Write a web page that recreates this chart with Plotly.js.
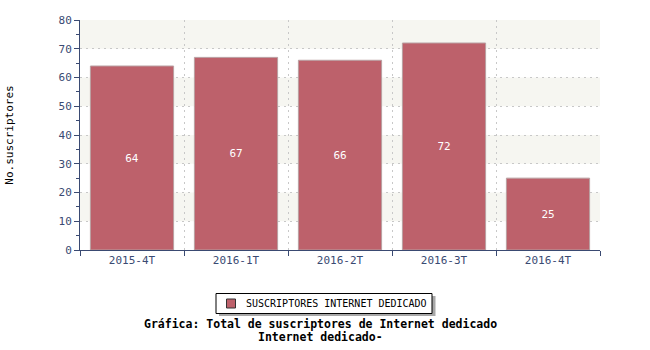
<!DOCTYPE html>
<html>
<head>
<meta charset="utf-8">
<script src="https://cdn.plot.ly/plotly-3.0.1.min.js"></script>
<style>html,body{margin:0;padding:0;background:#fff;}#chart{width:650px;height:350px;}</style>
</head>
<body>
<div id="chart"></div>
<script>
const categories = ["2015-4T", "2016-1T", "2016-2T", "2016-3T", "2016-4T"];
const values = [64, 67, 66, 72, 25];
const seriesName = "SUSCRIPTORES INTERNET DEDICADO";
const bandStartsGrey = [10, 30, 50, 70];
const barColor = "#bd616b";

const mono = "DejaVu Sans Mono, monospace";
const axisColor = "#3a4a72";
const px = v => (v - 80) / 520;   // container px -> paper x
const py = v => (250 - v) / 230;  // container px -> paper y

const shapes = [];
bandStartsGrey.forEach(b => shapes.push({
  type: "rect", xref: "paper", yref: "y", x0: 0, x1: 1, y0: b, y1: b + 10,
  fillcolor: "#f6f6f1", line: {width: 0}, layer: "below"
}));
// legend: shadow, box, swatch
shapes.push({type: "rect", xref: "paper", yref: "paper",
  x0: px(219), x1: px(435.5), y0: py(316), y1: py(296),
  fillcolor: "#a8a8a8", line: {width: 0}, layer: "above"});
shapes.push({type: "rect", xref: "paper", yref: "paper",
  x0: px(216), x1: px(432), y0: py(313.5), y1: py(293.5),
  fillcolor: "#ffffff", line: {color: "#000000", width: 1}, layer: "above"});
shapes.push({type: "rect", xref: "paper", yref: "paper",
  x0: px(226.5), x1: px(235.5), y0: py(308), y1: py(299),
  fillcolor: barColor, line: {color: "#333333", width: 1}, layer: "above"});

const data = [{
  type: "bar",
  x: categories,
  y: values,
  name: seriesName,
  text: values.map(String),
  textposition: "inside",
  insidetextanchor: "middle",
  textfont: {family: mono, size: 11, color: "#ffffff"},
  marker: {color: barColor, line: {color: "#b9a0a2", width: 1}},
  showlegend: false,
  hoverinfo: "x+y"
}];

const layout = {
  width: 650, height: 350,
  margin: {l: 80, r: 50, t: 20, b: 100},
  paper_bgcolor: "#ffffff",
  plot_bgcolor: "#ffffff",
  bargap: 0.2,
  showlegend: false,
  shapes: shapes,
  xaxis: {
    type: "category",
    tickson: "boundaries",
    ticks: "outside", ticklen: 5, tickcolor: axisColor,
    showline: true, linecolor: axisColor, linewidth: 1,
    showgrid: true, gridcolor: "#c8c8c8", griddash: "2px,4px", gridwidth: 1,
    tickfont: {family: mono, size: 11, color: axisColor},
    zeroline: false, fixedrange: true
  },
  yaxis: {
    range: [0, 80], dtick: 10,
    ticks: "outside", ticklen: 5, tickcolor: axisColor,
    showline: true, linecolor: axisColor, linewidth: 1,
    showgrid: true, gridcolor: "#c8c8c8", griddash: "2px,4px", gridwidth: 1,
    minor: {dtick: 5, ticks: "outside", ticklen: 3, tickcolor: axisColor, showgrid: false},
    tickfont: {family: mono, size: 11, color: axisColor},
    zeroline: false, fixedrange: true,
    title: {text: "No.suscriptores", font: {family: mono, size: 11, color: "#000000"}, standoff: 42}
  },
  annotations: [
    {text: seriesName, xref: "paper", yref: "paper",
     x: px(244), y: py(303.5), xanchor: "left", yanchor: "middle", showarrow: false,
     font: {family: mono, size: 10, color: "#000000"}},
    {text: "<b>Gráfica: Total de suscriptores de Internet dedicado</b>", xref: "paper", yref: "paper",
     x: px(320), y: py(324), xanchor: "center", yanchor: "middle", showarrow: false,
     font: {family: mono, size: 11.5, color: "#000000"}},
    {text: "<b>Internet dedicado-</b>", xref: "paper", yref: "paper",
     x: px(320), y: py(337), xanchor: "center", yanchor: "middle", showarrow: false,
     font: {family: mono, size: 11.5, color: "#000000"}}
  ]
};

Plotly.newPlot("chart", data, layout, {displayModeBar: false, staticPlot: true});
</script>
</body>
</html>
